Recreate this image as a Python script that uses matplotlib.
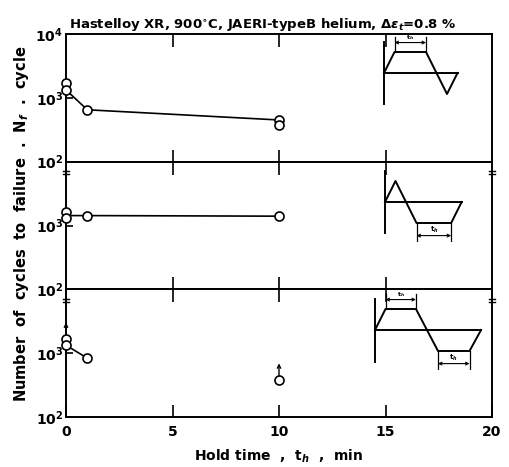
import matplotlib
matplotlib.use("Agg")
import matplotlib.pyplot as plt
from matplotlib.ticker import FixedLocator, FixedFormatter

W, H = 509, 467

# hold time (min) and cycles to failure
tension_x = [0, 0, 1, 10, 10]
tension_n = [1700, 1330, 650, 450, 370]
tension_line_x = [0, 1, 10]
tension_line_n = [1330, 650, 450]

compression_x = [0, 0, 1, 10]
compression_n = [1600, 1290, 1430, 1400]
compression_line_x = [0, 1, 10]
compression_line_n = [1430, 1430, 1400]

both_x = [0, 0, 1, 10]
both_n = [1660, 1330, 835, 380]
both_line_x = [0, 1]
both_line_n = [1330, 835]
both_runout_x = [0, 10]
both_runout_n = [1660, 380]

x_ticks = [0, 5, 10, 15, 20]
x_tick_labels = ["0", "5", "10", "15", "20"]

# schematic strain waveforms (time, strain) for the insets
wave_tension_t = [0, 0.5, 2.0, 3.0, 3.5]
wave_tension_e = [0, 1, 1, -1, 0]
wave_compression_t = [0, 0.5, 1.5, 3.15, 3.65]
wave_compression_e = [0, 1, -1, -1, 0]
wave_both_t = [0, 0.5, 1.95, 3.0, 4.5, 5.05]
wave_both_e = [0, 1, 1, -1, -1, 0]

plt.rcParams["font.family"] = "DejaVu Sans"
plt.rcParams["font.weight"] = "bold"

fig = plt.figure(figsize=(W / 100, H / 100), dpi=100)
gs = fig.add_gridspec(3, 1, hspace=0, left=66 / W, right=492 / W,
                      top=1 - 34 / H, bottom=1 - 417 / H)
axes = [fig.add_subplot(gs[i]) for i in range(3)]

panels = [
    (tension_x, tension_n, tension_line_x, tension_line_n),
    (compression_x, compression_n, compression_line_x, compression_line_n),
    (both_x, both_n, both_line_x, both_line_n),
]

for i, (ax, (px, pn, lx, ln)) in enumerate(zip(axes, panels)):
    ax.set_yscale("log")
    ax.set_ylim(100, 10000)
    ax.set_xlim(0, 20)
    ax.plot(lx, ln, color="black", lw=1.2, zorder=2)
    ax.plot(px, pn, "o", ms=6.5, mfc="white", mec="black", mew=1.2,
            zorder=3, clip_on=False)
    for s in ax.spines.values():
        s.set_linewidth(1.4)
    ax.xaxis.set_major_locator(FixedLocator([5, 10, 15]))
    ax.tick_params(axis="x", which="major", direction="in", length=9,
                   width=1.2, top=True, bottom=True, labelbottom=False)
    yt = [100, 1000, 10000] if i == 0 else [100, 1000]
    ax.yaxis.set_major_locator(FixedLocator(yt))
    ax.yaxis.set_major_formatter(FixedFormatter([r"$10^{%d}$" % k for k in (2, 3, 4)][:len(yt)]))
    ax.yaxis.set_minor_locator(FixedLocator([]))
    ax.tick_params(axis="y", which="major", direction="in", length=5,
                   width=1.2, labelsize=10, pad=2)
    # axis break marks below each panel boundary
    if i > 0:
        for xf in (0, 1):
            for dy in (-0.075, -0.1):
                ax.plot([xf - 0.008, xf + 0.008], [1 + dy, 1 + dy],
                        transform=ax.transAxes, color="black", lw=1.0,
                        clip_on=False)

# run-out arrows
for xr, nr in zip(both_runout_x, both_runout_n):
    axes[2].annotate("", xy=(xr, nr), xytext=(0, 12), textcoords="offset points",
                     arrowprops=dict(arrowstyle="<-", lw=1.0, color="black",
                                     shrinkA=0, shrinkB=3, mutation_scale=6))

axes[2].xaxis.set_major_locator(FixedLocator(x_ticks))
axes[2].xaxis.set_major_formatter(FixedFormatter(x_tick_labels))
axes[2].tick_params(axis="x", labelbottom=True, labelsize=10, pad=6)

fig.text(263 / W, 1 - 33 / H,
         r"Hastelloy XR, 900$^{\circ}$C, JAERI-typeB helium, $\Delta\varepsilon_t$=0.8 %",
         ha="center", va="bottom", fontsize=9.5)
fig.text(22 / W, 0.5 + 10 / H, r"Number  of  cycles  to  failure  .  N$_f$  .  cycle",
         rotation=90, ha="center", va="center", fontsize=10.5)
fig.text(279 / W, 1 - 456 / H, r"Hold time  ,  t$_h$  ,  min",
         ha="center", va="center", fontsize=10)

UNIT = 21.0  # pixels per waveform unit


def wave_inset(ox, oy, t, e, holds_top, holds_bottom, tmax):
    # ox, oy: pixel position of the waveform origin (from top-left)
    left, right, up, down = 6, tmax * UNIT + 10, 40, 40
    ax = fig.add_axes([(ox - left) / W, (H - oy - down) / H,
                       (left + right) / W, (up + down) / H])
    ax.set_xlim(-left / UNIT, right / UNIT)
    ax.set_ylim(-down / UNIT, up / UNIT)
    ax.axis("off")
    ax.plot(t, e, color="black", lw=1.4)
    ax.plot([0, t[-1]], [0, 0], color="black", lw=1.4)
    ax.plot([0, 0], [-1.5, 1.5], color="black", lw=1.4)
    for a, b in holds_top:
        for tt in (a, b):
            ax.plot([tt, tt], [1, 1.7], color="black", lw=0.9)
        ax.annotate("", xy=(a, 1.45), xytext=(b, 1.45),
                    arrowprops=dict(arrowstyle="<->", lw=0.8, mutation_scale=5,
                                    shrinkA=0, shrinkB=0))
        ax.text((a + b) / 2, 1.48, "t$_h$", fontsize=4.5, ha="center", va="bottom")
    for a, b in holds_bottom:
        for tt in (a, b):
            ax.plot([tt, tt], [-1, -1.85], color="black", lw=0.9)
        ax.annotate("", xy=(a, -1.6), xytext=(b, -1.6),
                    arrowprops=dict(arrowstyle="<->", lw=0.8, mutation_scale=5,
                                    shrinkA=0, shrinkB=0))
        ax.text((a + b) / 2, -1.55, "t$_h$", fontsize=5, ha="center", va="bottom")
    return ax


wave_inset(384, 73, wave_tension_t, wave_tension_e,
           [(wave_tension_t[1], wave_tension_t[2])], [], 3.5)
wave_inset(385, 202, wave_compression_t, wave_compression_e,
           [], [(wave_compression_t[2], wave_compression_t[3])], 3.65)
wave_inset(375, 330, wave_both_t, wave_both_e,
           [(wave_both_t[1], wave_both_t[2])],
           [(wave_both_t[3], wave_both_t[4])], 5.05)

fig.savefig("out.png", dpi=100)
